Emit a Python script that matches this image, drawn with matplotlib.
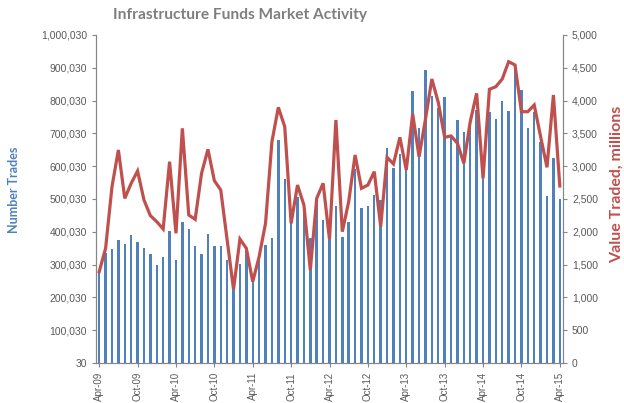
import numpy as np
import pandas as pd
import matplotlib
matplotlib.use('Agg')
import matplotlib.pyplot as plt
from matplotlib.ticker import FuncFormatter

# Monthly data, Apr-09 .. Apr-15
months = pd.date_range('2009-04-01', '2015-04-01', freq='MS')
month_labels = [m.strftime('%b-%y') for m in months]

# number of trades (left axis)
trades = [280000, 334000, 347000, 374000, 362000, 389000, 368000, 352000, 331000, 298000,
          324000, 401000, 314000, 429000, 408000, 356000, 333000, 392000, 358000, 357000,
          313000, 225000, 302000, 340000, 248000, 324000, 360000, 380000, 680000, 561000,
          426000, 507000, 456000, 380000, 497000, 436000, 377000, 480000, 385000, 429000,
          593000, 473000, 480000, 511000, 497000, 657000, 596000, 637000, 616000, 829000,
          715000, 893000, 815000, 776000, 812000, 696000, 741000, 705000, 735000, 771000,
          563000, 766000, 743000, 798000, 769000, 903000, 832000, 718000, 766000, 675000,
          509000, 626000, 499000]

# value traded, millions (right axis)
value = [1392, 1748, 2688, 3247, 2510, 2739, 2927, 2485, 2246, 2154,
         2043, 3069, 1977, 3577, 2256, 2190, 2891, 3257, 2780, 2637,
         1875, 1123, 1890, 1748, 1240, 1621, 2129, 3374, 3897, 3603,
         2129, 2713, 2409, 1418, 2510, 2739, 1885, 3704, 2002, 2459,
         3171, 2663, 2713, 2917, 2078, 3135, 3034, 3440, 2942, 3796,
         3145, 3715, 4329, 3974, 3440, 3461, 3349, 3044, 3679, 4111,
         2815, 4172, 4212, 4329, 4593, 4543, 3831, 3831, 3933, 3450,
         2983, 4085, 2698]

blue = '#4f81bd'
red = '#c0504d'
grey = '#868686'
txt = '#595959'

fig = plt.figure(figsize=(6.24, 4.03), dpi=100)
ax = fig.add_axes([96/624, 1-363/403, (563-96)/624, (363-35)/403])
ax2 = ax.twinx()

x = np.arange(len(months))
ax.bar(x, trades, width=0.38, color=blue, zorder=2)
ax2.plot(x, value, color=red, lw=2.3, solid_joinstyle='miter', zorder=3)

ax.set_xlim(-0.5, len(months) - 0.5)
ax.set_ylim(30, 1000030)
ax.set_yticks(np.arange(30, 1000031, 100000))
ax.yaxis.set_major_formatter(FuncFormatter(lambda v, p: f'{int(round(v)):,}'))
ax2.set_ylim(0, 5000)
ax2.set_yticks(np.arange(0, 5001, 500))
ax2.yaxis.set_major_formatter(FuncFormatter(lambda v, p: f'{int(v):,}'))

ax.set_xticks(x[::6])
ax.set_xticklabels(month_labels[::6], rotation=90)

for a in (ax, ax2):
    for s in a.spines.values():
        s.set_color(grey)
        s.set_linewidth(0.8)
    a.spines['top'].set_visible(False)
    a.tick_params(colors=grey, labelcolor=txt, length=3, width=0.8)
    a.tick_params(axis='y', labelsize=7.5)
    a.tick_params(axis='x', labelsize=7)
    for lab in a.get_xticklabels() + a.get_yticklabels():
        lab.set_fontfamily('Liberation Sans')

fig.text(240/624, 1-15/403, 'Infrastructure Funds Market Activity', ha='center', va='center',
         fontsize=11.2, fontweight='bold', color='#7f7f7f', family='Lato')
fig.text(14/624, 1-190/403, 'Number Trades', rotation=90, ha='center', va='center',
         fontsize=9, fontweight='bold', color=blue, family='Lato')
fig.text(617/624, 1-184/403, 'Value Traded, millions', rotation=90, ha='center', va='center',
         fontsize=11.5, fontweight='bold', color=red, family='Lato')

fig.savefig('out.png', dpi=100)
